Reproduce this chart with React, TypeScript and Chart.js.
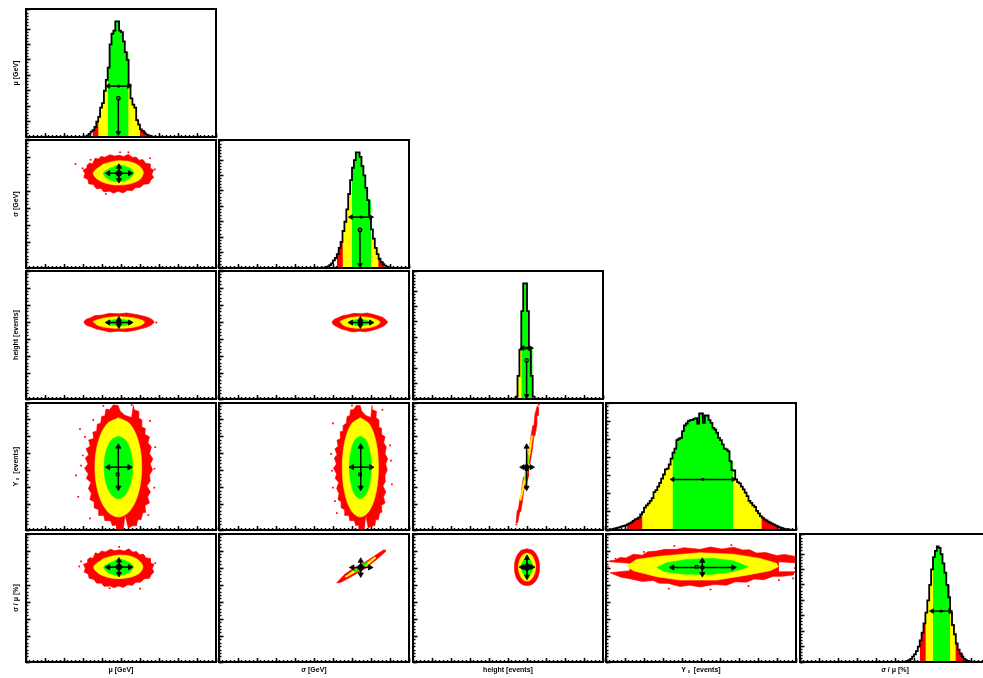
import React, { useEffect, useRef } from "react";
import { Chart, registerables } from "chart.js";

Chart.register(...registerables);

// ---- axis labels
const xLabels = ["μ [GeV]", "σ [GeV]", "height [events]", "Y ₛ  [events]", "σ / μ [%]"];
const yLabels = ["μ [GeV]", "σ [GeV]", "height [events]", "Y ₛ  [events]", "σ / μ [%]"];

// ---- 1D histograms: first filled bin, bin heights, band limits (bin numbers)
const muStart = 30;
const muHist = [0.1,0.2,0.3,1,2,3.5,4.5,6.5,10,13,19,22,30,37,45,60,67,69,75,75,69,68,62,55,50,34,25,21,19,11,8,5,4,2.5,1.5,1,0.5,0.2];
const muRed = [35, 63];
const muYellow = [38, 60];
const muGreen = [43, 54];

const sigmaStart = 55;
const sigmaHist = [0.1,0.3,0.5,1,1.8,3,5,6.5,9,13,17,24,30,38,48,57,65,70,75,75,72,66,60,52,44,33,25,19,13,9,6,4,2.5,1.5,0.8,0.4,0.2];
const sigmaRed = [62, 87];
const sigmaYellow = [65, 84];
const sigmaGreen = [70, 80];

const heightStart = 54;
const heightHist = [0.3,1.5,15,32,57,75,75,57,32,15,1.5,0.3];
const heightRed = [54, 66];
const heightYellow = [55, 65];
const heightGreen = [57, 63];

const yieldStart = 2;
const yieldHist = [0.1,0.3,0.5,0.7,1,1.3,1.6,2,2.2,2.6,3.1,3.6,4.2,5,5.9,6.2,7,8.6,9.9,12.3,13.6,14.7,16,17.6,20.9,22,23.9,26,28.3,30.6,33.4,33.8,36.1,39.3,42.6,44.8,49.5,50.3,50.8,54.5,57.6,58.7,60,60.6,60.7,61.3,61.7,58.7,64.2,64.2,59,63.1,63.1,60.6,59,56.3,55.4,53.6,50.8,49.5,47.2,44.8,44.4,43.5,38,33,32.8,27.9,26.4,25.7,23.9,22.4,20.6,18.7,16,15,13.6,12.8,10.5,9.2,7.7,6.8,5.9,5.3,4.6,4,3.5,2.9,2.4,2,1.5,1.1,0.7,0.5,0.4,0.2,0.1];
const yieldRed = [11, 90];
const yieldYellow = [19, 82];
const yieldGreen = [35, 67];

const ratioStart = 55;
const ratioHist = [0.1,0.2,0.6,1.2,2,3.5,5,7,10,14,19,25,32,40,50,60,68,72,75,74,70,64,58,50,42,32,24,18,12,8,5.5,3.5,2,1.2,0.7,0.3,0.1];
const ratioRed = [63, 86];
const ratioYellow = [66, 82];
const ratioGreen = [70, 79];

// ---- 1D mean / width markers: [x1, x2, y] and [x, yTop, yBottom]
const muWidth = [43.3, 54.2, 33];
const muDrop = [48.6, 25, 2.6];
const sigmaWidth = [69.5, 80, 33];
const sigmaDrop = [74.2, 24.7, 2];
const heightWidth = [57.8, 62, 33];
const heightDrop = [59.8, 25, 2];
const yieldWidth = [35.1, 67, 27.9];
const ratioWidth = [69.5, 79, 33];

// ---- 2D contours: [x, y]
const sigmaMuRed = [[33.5,56.5],[35,56],[36.3,59.3],[38,58.8],[39.5,60.4],[41.5,59.9],[44.2,61.4],[46.5,60.6],[49,61],[51.5,60.4],[53.9,61.6],[56,59.8],[58,60],[59.5,58.2],[61.5,58.6],[63,56.4],[65.3,56],[65.3,53.6],[67.2,52.4],[66.2,50],[67.2,48],[65.6,46.4],[64.8,44.4],[62,44],[60,42.2],[57.6,42],[55.8,40.2],[53.4,40.6],[51,39],[48.6,40],[46,38.8],[44,40],[41,39.6],[39.5,41.6],[37,41.5],[35.5,43.8],[33,44.4],[32.6,46.8],[30.4,48],[31,50.4],[30,52.4],[32,53.6],[32.2,55.4]];
const sigmaMuYellow = [[40.7,55.9],[48.6,57.9],[57.4,56.3],[61.7,51.4],[59.1,46.2],[49.5,43.6],[39.8,45.6],[35.4,50.5]];
const sigmaMuGreen = [[44.2,53.4],[49.1,55.4],[54.7,53.4],[56.8,50.5],[53.9,47],[48.6,45.6],[43.3,47],[40.7,50.5]];
const sigmaMuDots = [[26.1,55.9],[67.8,52.8],[53.9,62.8],[49.5,62.8],[29.8,53.4],[65.3,59.3],[42,38.4],[34,58.4]];

const heightMuRed = [[30.6,40.6],[31.8,41.8],[34,42.6],[36,43.8],[40,44.2],[44,45.2],[49,44.9],[53,45.4],[58,44.5],[61,43.8],[64,42.9],[66.4,41.6],[67.6,40],[66,38.4],[63.5,37],[60,36],[57,35.2],[53,34.4],[49,34.7],[44,34.3],[40,35.3],[37,36],[34.5,37.2],[32,38],[30.8,39.2]];
const heightMuYellow = [[35.2,40.4],[38,41.6],[43,42.8],[49,43.2],[55,42.8],[60,41.6],[62.4,40],[60,38],[55,36.8],[49,36.4],[43,36.8],[38,38]];
const heightMuGreen = [[41.6,40],[44,41],[49,41.7],[54,41],[56.4,39.8],[54,38.6],[49,37.9],[44,38.6]];
const heightMuDots = [[68.6,39.8]];

const heightSigmaRed = [[59.6,40.6],[60.8,41.8],[63,42.8],[65,43.8],[68,44.4],[71,45.2],[74.5,44.9],[78,45.4],[81.5,44.5],[84,43.6],[86.2,42.8],[87.8,41.4],[88.8,40],[87.5,38.4],[85.5,37],[83,36],[80.5,35.2],[77,34.4],[74,34.7],[70,34.3],[67,35.3],[64.5,36],[62.3,37.2],[60.6,38.2],[59.8,39.2]];
const heightSigmaYellow = [[63.6,40.4],[65.8,41.6],[69.5,42.8],[74,43.2],[79,42.8],[82.7,41.6],[84.8,40],[82.7,38],[79,36.8],[74,36.4],[69.5,36.8],[65.8,38]];
const heightSigmaGreen = [[68,40],[70.4,41],[74,41.7],[78,41],[80.4,39.8],[78,38.6],[74,37.9],[70.4,38.6]];

const yieldMuRed = [[46,68.9],[44,66],[42.1,66.4],[41.5,62.5],[39.8,62],[39.3,58],[37.5,57.5],[37.2,53.5],[35.2,52.8],[35.6,49],[33,48.2],[33.8,44.5],[31.6,43],[33,39.5],[31.2,37.5],[32.6,34],[30.8,31.5],[32.8,28],[31.8,25.5],[34.2,23],[32.8,19.5],[34.4,16.5],[33.6,13],[36,11.5],[36,8],[38.4,7],[38.4,3.5],[41,3.5],[41.5,0.5],[44.5,0.5],[45.5,-2.5],[47.7,-2],[47.7,-4.4],[51.2,-4.6],[52.1,3.8],[53.9,-4],[56,-2.5],[58.2,-2.5],[58.8,1],[60.6,1.2],[61.4,5],[63,5.5],[62.6,9.5],[65,11],[64,14.5],[65.5,17.5],[63.6,21],[65.4,24],[65,27.5],[66.6,30.5],[65.4,34],[66.8,37],[65,40],[66,44],[64.2,46.5],[65,50],[62.6,51.5],[62.8,55],[60.6,56],[61,60],[59,61.4],[59.4,65],[57,66],[56.5,68.5],[55.6,61.4],[52,62.8],[49.5,65.3],[48.5,68.5]];
const yieldMuYellow = [[48.6,61.3],[54.8,57.5],[59.3,46.7],[60.9,32],[59.3,17.4],[54.8,6.5],[48.6,2.7],[42.5,6.5],[37.9,17.4],[36.3,32],[37.9,46.7],[42.5,57.5]];
const yieldMuGreen = [[48.6,50.5],[52.4,48.1],[55.1,41.3],[56.1,32],[55.1,22.8],[52.4,16],[48.6,13.5],[44.9,16],[42.1,22.8],[41.1,32],[42.1,41.3],[44.9,48.1]];
const yieldMuDots = [[26.3,27.3],[28.4,54.6],[67.6,31.2],[68,43.9],[30,39],[27.5,14.6],[65.3,59.5],[33.7,1.9],[64.4,3.8],[40.7,68.3],[55.6,68.8],[29,33],[67.5,20],[31,50],[35.4,60]];

const yieldSigmaRed = [[72.3,68.6],[70.8,66],[69.3,66],[68.8,62.5],[67.4,62],[67,58],[65.6,57],[65.4,53.5],[63.8,53],[64.1,49],[62.1,48],[62.7,44.5],[61,43],[62.1,39.5],[60.7,37.5],[61.8,34],[60.3,31.5],[61.9,28],[61.1,25.5],[63,23],[61.9,19.5],[63.2,16.5],[62.6,13],[64.4,11.5],[64.4,8],[66.3,7],[66.3,3.5],[68.4,3.5],[68.8,0.5],[71.2,0.5],[72,-2.5],[73.7,-2],[73.7,-4.4],[76.5,-4.6],[77.2,3.8],[78.6,-4],[80.2,-2.5],[82,-2.5],[82.5,1],[83.9,1.2],[84.5,5],[85.8,5.5],[85.5,9.5],[87.4,11],[86.6,14.5],[87.8,17.5],[86.3,21],[87.7,24],[87.4,27.5],[88.6,30.5],[87.7,34],[88.8,37],[87.4,40],[88.1,44],[86.7,46.5],[87.4,50],[85.5,51.5],[85.6,55],[83.9,56],[84.2,60],[82.6,61.4],[82.9,65],[81,66],[80.6,68.5],[79.9,61.4],[77.1,62.8],[75.1,65.3],[74.3,68.5]];
const yieldSigmaYellow = [[74.4,61.3],[79.2,57.5],[82.7,46.7],[83.9,32],[82.7,17.4],[79.2,6.5],[74.4,2.7],[69.6,6.5],[66.1,17.4],[64.9,32],[66.1,46.7],[69.6,57.5]];
const yieldSigmaGreen = [[74.4,50.5],[77.3,48.1],[79.4,41.3],[80.2,32],[79.4,22.8],[77.3,16],[74.4,13.5],[71.5,16],[69.4,22.8],[68.6,32],[69.4,41.3],[71.5,48.1]];
const yieldSigmaDots = [[60,58],[59,40],[90.5,36],[91,22],[60,20],[62,5],[70,68.5],[86,66],[59.5,30],[90,45],[61,12]];

const yieldHeightRed = [[54.2,-0.7],[54.9,6.8],[55.4,6.8],[56.3,13.6],[56.8,13.6],[57.2,19.4],[58.1,26.3],[58.9,26.3],[59.5,34.1],[60.7,41.9],[61.2,41.9],[62,49.7],[63,56.6],[63.6,56.6],[64.2,63.4],[65.4,68.3],[66.1,67.3],[65.8,62.4],[65.1,62.4],[65.1,56.6],[64.2,50.7],[63.6,50.7],[63,43.9],[61.6,34.1],[61,34.1],[60.7,26.3],[59,19.4],[58.4,19.4],[57.7,12.6],[56.7,5.8],[56.2,5.8],[55.1,-0.7]];
const yieldHeightYellow = [[56.3,12.6],[57.5,20.4],[59,28.2],[60.3,38],[61.6,45.8],[62.4,50.7],[63,50.7],[62.2,43.9],[61,36],[59.8,26.3],[58.2,19.4],[56.9,12.6]];
const yieldHeightGreen = [[58.8,24.3],[60.3,39],[60.9,39],[59.5,24.3]];
const yieldHeightDots = [[54.4,-1.7],[66.2,69]];

const ratioMuRed = [[33.8,56.3],[35.2,55.6],[36.5,59],[38.2,58.4],[39.7,60.1],[41.7,59.5],[44.5,61.1],[46.7,60.2],[49.2,60.7],[51.7,60],[54.1,61.3],[56.2,59.4],[58.2,59.7],[59.7,57.8],[61.7,58.3],[63.2,56],[65.5,55.7],[65.5,53.2],[67.4,52.1],[66.4,49.6],[67.4,47.7],[65.8,46],[65,44],[62.2,43.7],[60.2,41.8],[57.8,41.7],[56,39.9],[53.6,40.2],[51.2,38.7],[48.8,39.6],[46.2,38.5],[44.2,39.6],[41.2,39.3],[39.7,41.2],[37.2,41.2],[35.7,43.4],[33.2,44.1],[32.8,46.4],[30.6,47.7],[31.2,50],[30.2,52.1],[32.2,53.2],[32.4,55]];
const ratioMuYellow = [[40.9,55.7],[48.8,57.7],[57.2,56.1],[61.5,51.2],[58.9,46.4],[49.3,43.8],[40,45.8],[35.6,50.7]];
const ratioMuGreen = [[44.4,53.2],[49.3,55.2],[54.5,53.2],[56.6,50.7],[53.7,47.2],[48.8,45.8],[43.5,47.2],[40.9,50.7]];
const ratioMuDots = [[29,54],[28,51],[68,53],[49,62.5],[44,38.2],[60,38]];

const ratioSigmaRed = [[61.9,41.4],[66.3,46.5],[70.7,49.8],[76,52.8],[81.2,56.7],[86.5,60.6],[87.7,60.6],[87.4,59.4],[83,55.1],[77.7,50.4],[72.5,46.9],[68.1,44],[63.7,41.4]];
const ratioSigmaYellow = [[66.3,45],[71.6,49.3],[76.8,52.2],[82.1,56.7],[82.6,55.9],[77.7,51.2],[72.1,47.9],[67.2,44.8]];
const ratioSigmaGreen = [[70.7,48.9],[77.7,53.4],[78.2,52.6],[71.6,47.5]];

const ratioHeightRed = [[60,61.4],[63.3,60.2],[65.8,56],[66.6,50.6],[65.8,45],[63.3,41],[60,39.8],[56.7,41],[54.2,45],[53.4,50.6],[54.2,56],[56.7,60.2]];
const ratioHeightYellow = [[60,58.8],[62.2,57.8],[63.9,54.5],[64.6,50.6],[63.9,46.5],[62.2,43.4],[60,42.4],[57.8,43.4],[56.1,46.5],[55.4,50.6],[56.1,54.5],[57.8,57.8]];
const ratioHeightGreen = [[60,55.8],[61.5,55],[62.6,53],[63,50.6],[62.6,48],[61.5,46],[60,45.4],[58.5,46],[57.4,48],[57,50.6],[57.4,53],[58.5,55]];

const ratioYieldRed = [[1.75,54.3],[4.5,54.6],[7.4,56.3],[10.5,56],[14.4,58.2],[19,57.6],[22,59.6],[26.7,60],[31,61],[37.2,61],[41,62],[49.5,61],[55,62.4],[61,61.2],[67,62.3],[72,60.6],[75.5,60.8],[79.3,58.8],[84,59.2],[89.8,57.4],[94,58],[99.1,57],[99.4,53.2],[90.7,53.7],[90.7,47.9],[99.4,47.9],[98.6,46],[93,45.2],[88,45.2],[83,43.2],[78,43.6],[74,41.8],[68,42],[63.5,40],[57,40.4],[49.5,39],[44,40],[39,39.2],[33,41],[28,41.2],[24.9,42.8],[19,42.2],[12.6,43.8],[8,44.6],[5,46],[2.1,47.3],[12.6,48.5],[12.6,52.8],[2.1,53.7]];
const ratioYieldYellow = [[10.9,51.2],[16.1,55.1],[28.4,57],[49.5,59],[67,58.2],[81,55.7],[89.8,52.8],[90.7,50.8],[86.3,48.5],[74,45.9],[58.2,43],[39,43],[26.7,45],[14.4,48.5]];
const ratioYieldGreen = [[26.7,50.4],[32,53.2],[42.4,55.1],[56.5,55.7],[67,54.3],[74.9,50.8],[67,47.9],[54.7,46.3],[40.7,46.5],[31,47.9]];
const ratioYieldDots = [[1,50.8],[99.5,50],[33,38],[55,37.5],[98.5,44],[5,55.5],[66,63.5],[36,63],[91,43],[20,59.5],[75,39.5]];

// ---- 2D markers: [xLow, xHigh, yCentre], [xCentre, yHigh, yLow], open box [x, y]
const sigmaMuCross = [[43.3,54.7,50.5],[48.9,54.3,46.5],[48.7,50.5]];
const heightMuCross = [[43.3,54.7,39.8],[48.9,41.6,38],[48.7,39.8]];
const heightSigmaCross = [[69.5,80,39.8],[74.4,41.6,38],[74.2,39.8]];
const yieldMuCross = [[43.3,54.4,32.1],[48.6,44.2,20],[48.2,27.8]];
const yieldSigmaCross = [[70,80,32.1],[74.6,44.2,20],[74.2,27.8]];
const yieldHeightCross = [[57.7,62.4,32.1],[59.8,44.2,20],[59.8,31]];
const ratioMuCross = [[43.3,54.7,50.6],[48.9,54.4,46.6],[48.7,50.6]];
const ratioSigmaCross = [[70.2,79.5,50.4],[74.6,54.3,46.3],[74.3,50.4]];
const ratioHeightCross = [[57.4,62.6,50.6],[60,56,45],[60,50.6]];
const ratioYieldCross = [[34.9,67,50.4],[50.7,54.3,46.5],[47.7,50.8]];

// ---- styling and layout
const RED = "#ff0000";
const YELLOW = "#ffff00";
const GREEN = "#00ff00";
const FONT = "'Liberation Sans', Arial, sans-serif";
const colLeft = [26, 219, 413, 606, 800];
const rowTop = [9, 140, 271, 403, 534];
const rowHeight = [128, 128, 128, 127, 128];
const panelWidth = 190;
const PAD = 3;

type Pair = number[];
const xy = (p: Pair[]) => p.map(([x, y]) => ({ x, y }));
const closed = (p: Pair[]) => xy([...p, p[0]]);

function blob(points: Pair[], color: string, order: number, tension: number) {
  return {
    data: closed(points), showLine: true, fill: "shape", backgroundColor: color, borderColor: color,
    borderWidth: 0.6, pointRadius: 0, tension, order,
  };
}

function dots(points: Pair[]) {
  return {
    data: xy(points), showLine: false, pointStyle: "rect", pointRadius: 1.2, borderWidth: 0,
    pointBackgroundColor: RED, order: 40,
  };
}

function arrow(points: { x: number; y: number }[], rotation: number[], radius: number[]) {
  return {
    data: points, showLine: true, borderColor: "#000", borderWidth: 1.5, pointStyle: "triangle",
    pointRotation: rotation, pointRadius: radius, pointBackgroundColor: "#000", pointBorderColor: "#000",
    pointBorderWidth: 0.8, order: 2,
  };
}

function marker(x: number, y: number, style: string, radius: number, fill: string) {
  return {
    data: [{ x, y }], showLine: false, pointStyle: style, pointRadius: radius,
    pointBackgroundColor: fill, pointBorderColor: "#000", pointBorderWidth: 1.2, order: 1,
  };
}

function stepEdges(start: number, hist: number[], from: number, to: number) {
  const out: { x: number; y: number }[] = [];
  for (let bin = from; bin < to; bin++) {
    const v = bin >= start && bin < start + hist.length ? hist[bin - start] : 0;
    out.push({ x: bin, y: v });
  }
  out.push({ x: to, y: out[out.length - 1].y });
  return out;
}

function histDatasets(start: number, hist: number[], red: number[], yellow: number[], green: number[]) {
  const band = (b: number[], color: string, order: number) => ({
    data: stepEdges(start, hist, b[0], b[1]), showLine: true, stepped: "after", fill: "origin",
    backgroundColor: color, borderWidth: 0, pointRadius: 0, order,
  });
  return [
    { data: stepEdges(start, hist, 0, 100), showLine: true, stepped: "after", fill: false, borderColor: "#000", borderWidth: 1.8, pointRadius: 0, order: 5 },
    band(green, GREEN, 10),
    band(yellow, YELLOW, 20),
    band(red, RED, 30),
  ];
}

function widthMarker(w: number[]) {
  const centre = (w[0] + w[1]) / 2;
  return [
    arrow([{ x: w[0], y: w[2] }, { x: w[1], y: w[2] }], [-90, 90], [2.6, 2.6]),
    marker(centre, w[2], "rect", 1, "#000"),
  ];
}

function dropMarker(d: number[]) {
  return [
    arrow([{ x: d[0], y: d[1] }, { x: d[0], y: d[2] }], [0, 180], [0, 2.6]),
    marker(d[0], d[1], "circle", 1.8, "rgba(0,0,0,0)"),
  ];
}

function crossMarker(c: number[][], hub: number) {
  const [h, v, box] = c;
  return [
    arrow([{ x: h[0], y: h[2] }, { x: h[1], y: h[2] }], [-90, 90], [3, 3]),
    arrow([{ x: v[0], y: v[1] }, { x: v[0], y: v[2] }], [0, 180], [3, 3]),
    marker(box[0], box[1], "rect", 1.8, "rgba(0,0,0,0)"),
    ...(hub > 0 ? [marker(v[0], h[2], "rectRot", hub, "#000")] : []),
  ];
}

function contour(r: Pair[], y: Pair[], g: Pair[], cross: number[][], hub: number, extra: Pair[] = [], tension = 0.35) {
  return [
    ...crossMarker(cross, hub),
    blob(g, GREEN, 10, tension),
    blob(y, YELLOW, 20, tension),
    blob(r, RED, 30, r.length > 16 ? 0 : tension),
    ...(extra.length ? [dots(extra)] : []),
  ];
}

const panels = [
  { col: 0, row: 0, yMax: 83, yMin: 0, datasets: [...widthMarker(muWidth), ...dropMarker(muDrop), ...histDatasets(muStart, muHist, muRed, muYellow, muGreen)] },
  { col: 0, row: 1, yMax: 70, yMin: -5, datasets: contour(sigmaMuRed, sigmaMuYellow, sigmaMuGreen, sigmaMuCross, 3.5, sigmaMuDots) },
  { col: 1, row: 1, yMax: 83, yMin: 0, datasets: [...widthMarker(sigmaWidth), ...dropMarker(sigmaDrop), ...histDatasets(sigmaStart, sigmaHist, sigmaRed, sigmaYellow, sigmaGreen)] },
  { col: 0, row: 2, yMax: 70, yMin: -5, datasets: contour(heightMuRed, heightMuYellow, heightMuGreen, heightMuCross, 2.2, heightMuDots) },
  { col: 1, row: 2, yMax: 70, yMin: -5, datasets: contour(heightSigmaRed, heightSigmaYellow, heightSigmaGreen, heightSigmaCross, 2.2) },
  { col: 2, row: 2, yMax: 83, yMin: 0, datasets: [...widthMarker(heightWidth), ...dropMarker(heightDrop), ...histDatasets(heightStart, heightHist, heightRed, heightYellow, heightGreen)] },
  { col: 0, row: 3, yMax: 70, yMin: -5, datasets: contour(yieldMuRed, yieldMuYellow, yieldMuGreen, yieldMuCross, 0, yieldMuDots) },
  { col: 1, row: 3, yMax: 70, yMin: -5, datasets: contour(yieldSigmaRed, yieldSigmaYellow, yieldSigmaGreen, yieldSigmaCross, 0, yieldSigmaDots) },
  { col: 2, row: 3, yMax: 70, yMin: -5, datasets: contour(yieldHeightRed, yieldHeightYellow, yieldHeightGreen, yieldHeightCross, 2.8, yieldHeightDots, 0) },
  { col: 3, row: 3, yMax: 70, yMin: 0, datasets: [...widthMarker(yieldWidth), ...histDatasets(yieldStart, yieldHist, yieldRed, yieldYellow, yieldGreen)] },
  { col: 0, row: 4, yMax: 70, yMin: -5, datasets: contour(ratioMuRed, ratioMuYellow, ratioMuGreen, ratioMuCross, 3.5, ratioMuDots) },
  { col: 1, row: 4, yMax: 70, yMin: -5, datasets: contour(ratioSigmaRed, ratioSigmaYellow, ratioSigmaGreen, ratioSigmaCross, 3.5, [], 0) },
  { col: 2, row: 4, yMax: 70, yMin: -5, datasets: contour(ratioHeightRed, ratioHeightYellow, ratioHeightGreen, ratioHeightCross, 4) },
  { col: 3, row: 4, yMax: 70, yMin: -5, datasets: contour(ratioYieldRed, ratioYieldYellow, ratioYieldGreen, ratioYieldCross, 2.2, ratioYieldDots, 0) },
  { col: 4, row: 4, yMax: 83, yMin: 0, datasets: [...widthMarker(ratioWidth), ...histDatasets(ratioStart, ratioHist, ratioRed, ratioYellow, ratioGreen)] },
];

const framePlugin = {
  id: "frame",
  afterDraw(chart: any) {
    const { left, top, width, height } = chart.chartArea;
    const ctx = chart.ctx;
    ctx.save();
    ctx.lineWidth = 2;
    ctx.strokeStyle = "#000";
    ctx.strokeRect(left, top, width, height);
    ctx.restore();
  },
};

function Panel({ col, row, yMin, yMax, datasets }: any) {
  const ref = useRef<HTMLCanvasElement>(null);
  const isLeft = col === 0;
  const isBottom = row === 4;
  const leftGap = isLeft ? colLeft[0] : PAD;
  const bottomGap = isBottom ? 16 : PAD;
  const canvasLeft = colLeft[col] - leftGap;
  const canvasTop = rowTop[row] - PAD;
  const canvasW = leftGap + panelWidth + PAD;
  const canvasH = PAD + rowHeight[row] + bottomGap;

  useEffect(() => {
    const tickGrid = (len: number) => ({
      display: true, drawOnChartArea: false, drawTicks: true, tickLength: len, tickWidth: 1.5, tickColor: "#000",
    });
    const hidden = { display: false, autoSkip: false };
    const chart = new Chart(ref.current as HTMLCanvasElement, {
      type: "scatter",
      data: { datasets },
      plugins: [framePlugin],
      options: {
        animation: false,
        responsive: false,
        devicePixelRatio: 1,
        events: [],
        layout: { autoPadding: false, padding: { top: PAD, right: PAD, left: 0, bottom: 0 } },
        plugins: { legend: { display: false }, tooltip: { enabled: false }, title: { display: false } },
        scales: {
          x: {
            type: "linear", position: "bottom", weight: 1, min: 0, max: 100,
            border: { display: false },
            grid: tickGrid(-4),
            ticks: { ...hidden, stepSize: 10 },
            title: {
              display: isBottom, text: xLabels[col], color: "#000",
              font: { family: FONT, size: 7, weight: "bold" }, padding: { top: 0, bottom: 4 },
            },
            afterFit: (s: any) => { s.height = bottomGap; },
          },
          xMinor: {
            type: "linear", position: "bottom", weight: 0, min: 0, max: 100,
            border: { display: false },
            grid: tickGrid(-2),
            ticks: { ...hidden, stepSize: 2 },
            afterFit: (s: any) => { s.height = 0; },
          },
          y: {
            type: "linear", position: "left", weight: 1, min: yMin, max: yMax,
            border: { display: false },
            grid: tickGrid(-4.5),
            ticks: { ...hidden, stepSize: 10 },
            title: {
              display: isLeft, text: yLabels[row], color: "#000",
              font: { family: FONT, size: 7, weight: "bold" }, padding: { top: 12, bottom: 0 },
            },
            afterFit: (s: any) => { s.width = leftGap; },
          },
          yMinor: {
            type: "linear", position: "left", weight: 0, min: yMin, max: yMax,
            border: { display: false },
            grid: tickGrid(-2.5),
            ticks: { ...hidden, stepSize: 2 },
            afterFit: (s: any) => { s.width = 0; },
          },
        },
      },
    } as any);
    return () => chart.destroy();
  }, []);

  return (
    <canvas
      ref={ref}
      width={canvasW}
      height={canvasH}
      style={{ position: "absolute", left: canvasLeft, top: canvasTop, width: canvasW, height: canvasH }}
    />
  );
}

export default function App() {
  return (
    <div
      style={{
        position: "fixed", left: 0, top: 0, width: 983, height: 678, overflow: "hidden",
        background: "#fff", filter: "blur(0.35px)",
      }}
    >
      {panels.map((p) => (
        <Panel key={`${p.col}-${p.row}`} {...p} />
      ))}
    </div>
  );
}
